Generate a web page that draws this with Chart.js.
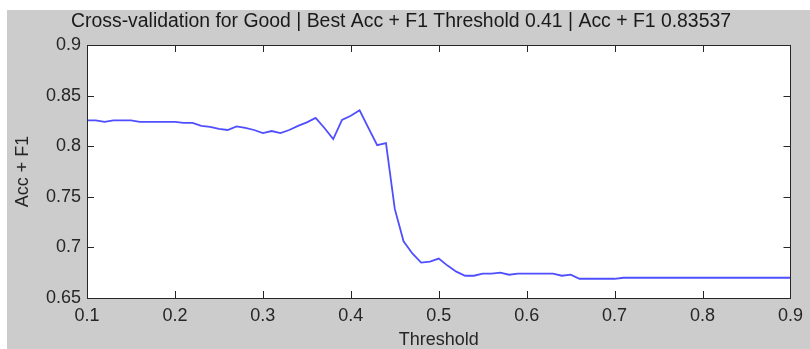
<!DOCTYPE html>
<html>
<head>
<meta charset="utf-8">
<script src="https://cdn.jsdelivr.net/npm/chart.js@4/dist/chart.umd.min.js"></script>
<style>
  html, body { margin: 0; padding: 0; background: #ffffff; }
  #wrap { position: absolute; left: 0; top: 0; width: 810px; height: 349px; }
</style>
</head>
<body>
<div id="wrap"><canvas id="c" width="810" height="349"></canvas></div>
<script>
// ---- data ----
const thresholds = [
  0.10, 0.11, 0.12, 0.13, 0.14, 0.15, 0.16, 0.17, 0.18, 0.19,
  0.20, 0.21, 0.22, 0.23, 0.24, 0.25, 0.26, 0.27, 0.28, 0.29,
  0.30, 0.31, 0.32, 0.33, 0.34, 0.35, 0.36, 0.37, 0.38, 0.39,
  0.40, 0.41, 0.42, 0.43, 0.44, 0.45, 0.46, 0.47, 0.48, 0.49,
  0.50, 0.51, 0.52, 0.53, 0.54, 0.55, 0.56, 0.57, 0.58, 0.59,
  0.60, 0.61, 0.62, 0.63, 0.64, 0.65, 0.66, 0.67, 0.68, 0.69,
  0.70, 0.71, 0.72, 0.73, 0.74, 0.75, 0.76, 0.77, 0.78, 0.79,
  0.80, 0.81, 0.82, 0.83, 0.84, 0.85, 0.86, 0.87, 0.88, 0.89,
  0.90
];
const accPlusF1 = [
  0.8255, 0.8255, 0.8240, 0.8255, 0.8255, 0.8255, 0.8240, 0.8240, 0.8240, 0.8240,
  0.8240, 0.8230, 0.8230, 0.8200, 0.8190, 0.8170, 0.8160, 0.8195, 0.8180, 0.8160,
  0.8130, 0.8150, 0.8130, 0.8160, 0.8200, 0.8235, 0.8280, 0.8180, 0.8070, 0.8260,
  0.8300, 0.8354, 0.8180, 0.8010, 0.8030, 0.7380, 0.7060, 0.6940, 0.6850, 0.6860,
  0.6890, 0.6820, 0.6760, 0.6720, 0.6720, 0.6740, 0.6740, 0.6750, 0.6730, 0.6740,
  0.6740, 0.6740, 0.6740, 0.6740, 0.6720, 0.6730, 0.6690, 0.6690, 0.6690, 0.6690,
  0.6690, 0.6700, 0.6700, 0.6700, 0.6700, 0.6700, 0.6700, 0.6700, 0.6700, 0.6700,
  0.6700, 0.6700, 0.6700, 0.6700, 0.6700, 0.6700, 0.6700, 0.6700, 0.6700, 0.6700,
  0.6700
];
const xTickValues = [0.1, 0.2, 0.3, 0.4, 0.5, 0.6, 0.7, 0.8, 0.9];
const yTickValues = [0.65, 0.7, 0.75, 0.8, 0.85, 0.9];
const chartTitle = 'Cross-validation for Good | Best Acc + F1 Threshold 0.41 | Acc + F1 0.83537';
const xTitle = 'Threshold';
const yTitle = 'Acc + F1';

const FONT = '"Liberation Sans", Arial, Helvetica, sans-serif';
const TEXT = '#262626';

const fmt = v => String(Number(Number(v).toFixed(2)));

const figurePlugin = {
  id: 'figure',
  beforeDraw(chart) {
    const ctx = chart.ctx;
    ctx.save();
    ctx.fillStyle = '#ffffff';
    ctx.fillRect(0, 0, chart.width, chart.height);
    ctx.fillStyle = '#cccccc';
    ctx.fillRect(7, 10, chart.width - 7, chart.height - 10);
    const a = chart.chartArea;
    ctx.fillStyle = '#ffffff';
    ctx.fillRect(a.left, a.top, a.right - a.left, a.bottom - a.top);
    ctx.restore();
  },
  afterDraw(chart) {
    const ctx = chart.ctx;
    const a = chart.chartArea;
    const xs = chart.scales.x, ys = chart.scales.y;
    const L = 7;
    ctx.save();
    ctx.strokeStyle = '#262626';
    ctx.lineWidth = 1;
    ctx.beginPath();
    xs.ticks.forEach(t => {
      const px = Math.round(xs.getPixelForValue(t.value)) + 0.5;
      ctx.moveTo(px, a.bottom); ctx.lineTo(px, a.bottom - L);
      ctx.moveTo(px, a.top); ctx.lineTo(px, a.top + L);
    });
    ys.ticks.forEach(t => {
      const py = Math.round(ys.getPixelForValue(t.value)) + 0.5;
      ctx.moveTo(a.left, py); ctx.lineTo(a.left + L, py);
      ctx.moveTo(a.right, py); ctx.lineTo(a.right - L, py);
    });
    ctx.stroke();
    ctx.strokeRect(Math.round(a.left) + 0.5, Math.round(a.top) + 0.5,
                   Math.round(a.right - a.left), Math.round(a.bottom - a.top));
    ctx.restore();
  }
};

new Chart(document.getElementById('c'), {
  type: 'line',
  data: {
    datasets: [{
      data: thresholds.map((t, i) => ({ x: t, y: accPlusF1[i] })),
      borderColor: '#4f4fff',
      borderWidth: 1.8,
      pointRadius: 0,
      tension: 0,
      fill: false
    }]
  },
  options: {
    responsive: false,
    animation: false,
    layout: { padding: { left: 9, right: 17, top: 0, bottom: 0 } },
    plugins: {
      legend: { display: false },
      tooltip: { enabled: false },
      title: {
        display: true,
        text: chartTitle,
        color: '#1a1a1a',
        font: { family: FONT, size: 19.4, weight: 'normal', lineHeight: 1.2 },
        padding: { top: 10.5, bottom: 11.2 }
      }
    },
    scales: {
      x: {
        type: 'linear',
        min: 0.1, max: 0.9,
        afterBuildTicks: s => { s.ticks = xTickValues.map(v => ({ value: v })); },
        afterFit: s => { s.height = 51; },
        grid: { display: false, drawTicks: false },
        border: { display: false },
        ticks: {
          color: TEXT, padding: 7, maxRotation: 0, autoSkip: false,
          font: { family: FONT, size: 18 },
          callback: v => fmt(v)
        },
        title: {
          display: true, text: xTitle, color: TEXT,
          font: { family: FONT, size: 18, lineHeight: 1.0 },
          padding: { top: 0, bottom: 0 }
        }
      },
      y: {
        type: 'linear',
        min: 0.65, max: 0.9,
        afterBuildTicks: s => { s.ticks = yTickValues.map(v => ({ value: v })); },
        afterFit: s => { s.width = 78; },
        grid: { display: false, drawTicks: false },
        border: { display: false },
        ticks: {
          color: TEXT, padding: 6, autoSkip: false,
          font: { family: FONT, size: 18 },
          callback: v => fmt(v)
        },
        title: {
          display: true, text: yTitle, color: TEXT,
          font: { family: FONT, size: 18, lineHeight: 1.0 },
          padding: { top: 5, bottom: 0 }
        }
      }
    }
  },
  plugins: [figurePlugin]
});
</script>
</body>
</html>
